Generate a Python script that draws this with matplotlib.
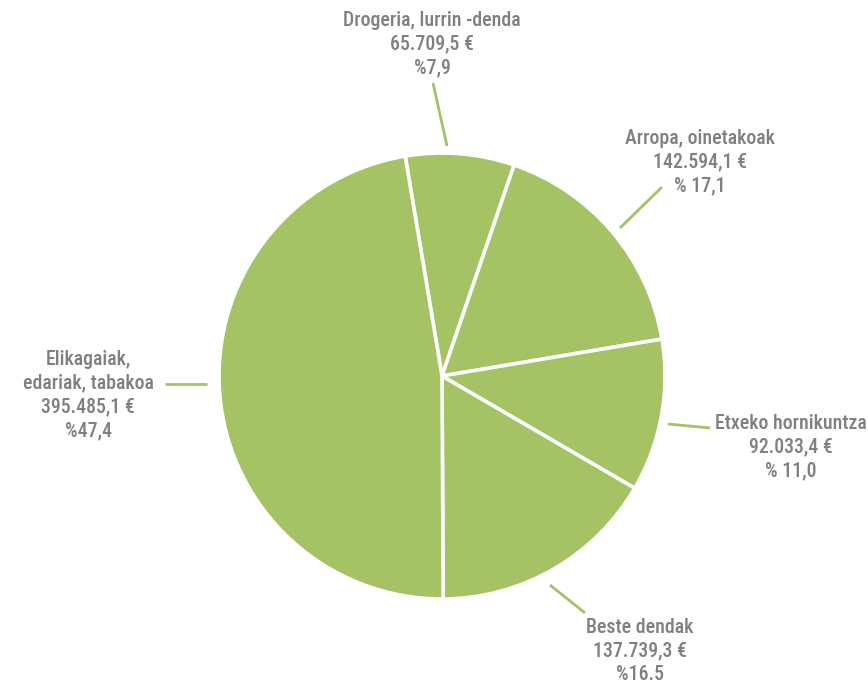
import matplotlib
matplotlib.use("Agg")
import matplotlib.pyplot as plt

# slices, clockwise from the top
categories = ["Drogeria, lurrin -denda", "Arropa, oinetakoak", "Etxeko hornikuntza",
              "Beste dendak", "Elikagaiak,\nedariak, tabakoa"]
values = [65709.5, 142594.1, 92033.4, 137739.3, 395485.1]
value_labels = ["65.709,5 €", "142.594,1 €", "92.033,4 €", "137.739,3 €", "395.485,1 €"]
pct_labels = ["%7,9", "% 17,1", "% 11,0", "%16.5", "%47,4"]

GREEN = "#A5C264"
GREY = "#808080"
W, H = 868, 684

fig = plt.figure(figsize=(W / 100, H / 100), dpi=100)
ax = fig.add_axes([0, 0, 1, 1])
ax.set_xlim(0, W)
ax.set_ylim(0, H)
ax.set_aspect("equal")
ax.axis("off")

ax.pie(values, colors=[GREEN] * len(values), startangle=99.5, counterclock=False,
       center=(442, H - 376), radius=223,
       wedgeprops=dict(edgecolor="white", linewidth=2.6))
ax.set_xlim(0, W)
ax.set_ylim(0, H)

# label anchor (text centre) and leader line, in pixel coords from top-left
label_pos = [(432, 44), (700, 162), (791, 447), (640, 651), (88, 395)]
leaders = [((433, 83), (447, 146)), ((662, 187), (620, 228)), ((668, 424), (710, 428)),
           ((550, 585), (585, 613)), ((165, 384), (207, 384))]

fam = ["Roboto Condensed", "Roboto", "DejaVu Sans"]
for cat, val, pct, (x, y), (p0, p1) in zip(categories, value_labels, pct_labels,
                                             label_pos, leaders):
    ax.text(x, H - y, f"{cat}\n{val}\n{pct}", ha="center", va="center",
            color=GREY, fontsize=14.3, family=fam, fontweight="medium", linespacing=1.33)
    ax.plot([p0[0], p1[0]], [H - p0[1], H - p1[1]], color=GREEN, lw=2, solid_capstyle="butt")

fig.savefig("out.png", dpi=100)
